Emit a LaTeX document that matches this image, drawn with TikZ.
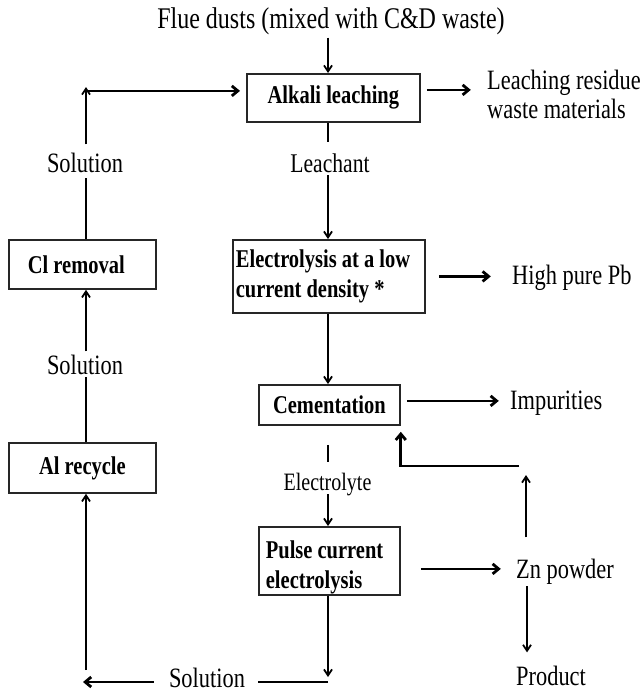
\documentclass[tikz,border=0pt]{standalone}
\usepackage{fontspec}
\setmainfont{Liberation Serif}[FakeStretch=0.8]
\usetikzlibrary{arrows.meta,calc}
\begin{document}
\begin{tikzpicture}[x=1pt,y=-1pt,
  every node/.style={inner sep=0pt},
  stepbox/.style={draw=black!85, line width=1.8pt, anchor=north west, inner sep=0pt,
    font=\fontsize{25.6}{30.5}\selectfont\bfseries},
  lbl/.style={font=\fontsize{28}{29}\selectfont},
  flow/.style={line width=1.8pt, -{Straight Barb[length=6pt,width=8pt]}},
  bold flow/.style={line width=2.8pt, -{Straight Barb[length=6pt,width=10pt]}},
  link/.style={line width=1.8pt},
  bold link/.style={line width=2.8pt},
]
\useasboundingbox (0,0) rectangle (644,694);

% process steps
\node[stepbox, minimum width=173pt, minimum height=48pt] (leach) at (246,73) {Alkali leaching};
\node[stepbox, text width=186pt, inner xsep=3pt, align=flush left, minimum height=73pt] (elec) at (232,239) {Electrolysis at a low\\current density *};
\node[stepbox, minimum width=141pt, minimum height=40pt] (cem) at (258,384) {Cementation};
\node[stepbox, text width=127pt, inner xsep=7pt, align=flush left, minimum height=68pt, text depth=23pt] (pulse) at (258,526) {Pulse current\\electrolysis};
\node[stepbox, text width=109pt, inner xsep=19pt, align=flush left, minimum height=49pt] (clrem) at (8,239) {Cl removal};
\node[stepbox, minimum width=147pt, minimum height=50pt] (alrec) at (8,442) {Al recycle};

% inputs, outputs and stream labels
\node[font=\fontsize{30}{32}\selectfont, anchor=base] (title) at (331,28) {Flue dusts (mixed with C\&D waste)};
\node[lbl, anchor=north west, align=flush left] (resid) at (487,70) {Leaching residue\\waste materials};
\node[font=\fontsize{27}{29}\selectfont, anchor=base] (leachant) at (330,172) {Leachant};
\node[lbl, anchor=base] (sol1) at (85,172) {Solution};
\node[lbl, anchor=base] (sol2) at (85,374) {Solution};
\node[lbl, anchor=base] (sol3) at (207,687) {Solution};
\node[lbl, anchor=base west] (pb) at (512,284) {High pure Pb};
\node[lbl, anchor=base west] (imp) at (510,409) {Impurities};
\node[font=\fontsize{25}{27}\selectfont, anchor=base] (electrolyte) at (327.5,490) {Electrolyte};
\node[lbl, anchor=base west] (zn) at (516,578) {Zn powder};
\node[lbl, anchor=base west] (prod) at (516,685) {Product};

% guide columns and free ends
\coordinate (col) at (328,0);
\coordinate (lc) at (86,0);
\coordinate (fbtip) at (526,475);
\coordinate (fb) at (519,466);
\coordinate (sb) at (328,682);

% main column
\draw[flow] ($(title.south -| col)+(0,3)$) -- (col |- leach.north);
\draw[link] (col |- leach.south) -- ($(col |- leachant.north)+(0,-11)$);
\draw[flow] ($(col |- leachant.south)+(0,3)$) -- (col |- elec.north);
\draw[flow] (col |- elec.south) -- (col |- cem.north);
\draw[link] ($(col |- cem.south)+(0,19)$) -- ($(col |- electrolyte.north)+(0,-10)$);
\draw[flow] ($(col |- electrolyte.base)+(0,4)$) -- (col |- pulse.north);
\draw[flow] (col |- pulse.south) -- ($(col |- sb)+(0,-5)$);

% products leaving the steps
\draw[bold flow] ($(leach.east)+(6,-8)$) -- ($(leach.east)+(50,-8)$);
\draw[bold flow] ($(elec.east)+(13,0)$) -- ($(elec.east)+(65,0)$);
\draw[bold flow] ($(cem.east)+(6,-4)$) -- ($(cem.east)+(98,-4)$);
\draw[bold flow] ($(pulse.east)+(20,8)$) -- ($(pulse.east)+(100,8)$);

% zinc powder split
\draw[flow] ($(zn.north -| fbtip)+(0,-21)$) -- (fbtip);
\draw[bold flow] (fb) -| ($(cem.south east)+(0,6)$);
\draw[flow] ($(zn.base -| fbtip)+(1,8)$) -- ($(prod.north -| fbtip)+(1,-13)$);

% solution return loop
\draw[bold link] (sb) -- ($(sb -| sol3.east)+(13,0)$);
\draw[bold flow] ($(sb -| sol3.west)+(-15,0)$) -- ($(sb -| lc)+(-3,0)$);
\draw[flow] ($(lc |- sb)+(0,-12)$) -- (lc |- alrec.south);
\draw[link] (lc |- alrec.north) -- ($(lc |- sol2.base)+(0,3)$);
\draw[flow] ($(lc |- sol2.north)+(0,-3)$) -- (lc |- clrem.south);
\draw[link] (lc |- clrem.north) -- ($(lc |- sol1.base)+(0,6)$);
\draw[flow] ($(lc |- sol1.north)+(0,-8)$) -- ($(lc |- leach.north)+(0,14)$);
\draw[bold flow] ($(lc |- leach.west)+(0,-7)$) -- ($(leach.west)+(-6,-7)$);
\end{tikzpicture}
\end{document}
